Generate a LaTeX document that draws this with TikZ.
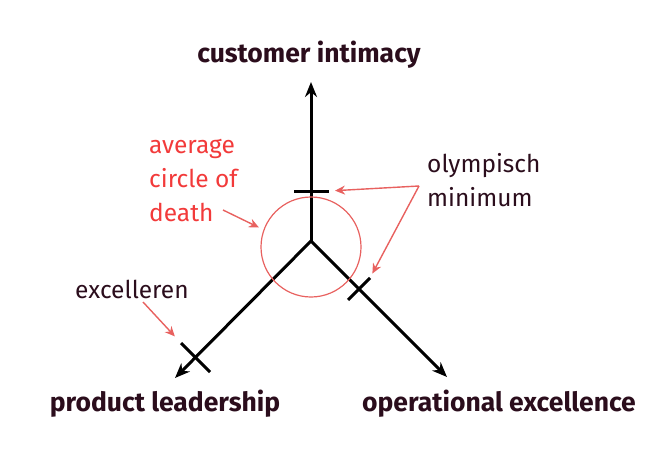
\documentclass[tikz,border=0pt]{standalone}
\usepackage{fontspec}
\setmainfont{Fira Sans}
\usepackage{xcolor}
\usetikzlibrary{positioning, arrows.meta, calc}
\definecolor{ink}{HTML}{2B0D1C}
\definecolor{alertred}{HTML}{F23A3A}
\definecolor{pointred}{HTML}{E8615F}

\begin{document}
\begin{tikzpicture}[
    x=1pt, y=-1pt,
    axis/.style={-{Stealth[length=15pt, width=12pt]}, line width=3pt, black},
    tickmark/.style={line width=3pt, black},
    pointer/.style={-{Stealth[length=10pt, width=9pt]}, line width=1.4pt, pointred},
    title/.style={font=\fontsize{26.5}{30}\selectfont\bfseries, text=ink, inner sep=0pt},
    note/.style={font=\fontsize{24.5}{34}\selectfont, align=left, anchor=west, inner sep=0pt, text=ink}
]
\useasboundingbox (0,0) rectangle (664,452);

% Axes
\coordinate (o) at (311,241);
\coordinate (ci_end) at (311,82);
\coordinate (pl_end) at (175,378);
\coordinate (oe_end) at (447,377);
\draw[axis] (o) -- (ci_end);
\draw[axis] (o) -- (pl_end);
\draw[axis] (o) -- (oe_end);

% Ticks
\coordinate (ci_tick_l) at (294,191);
\coordinate (ci_tick_r) at (329,191);
\coordinate (oe_tick_a) at (370,278);
\coordinate (oe_tick_b) at (348,300);
\coordinate (pl_tick_a) at (181,343);
\coordinate (pl_tick_b) at (210,372);
\draw[tickmark] (ci_tick_l) -- (ci_tick_r);
\draw[tickmark] (oe_tick_a) -- (oe_tick_b);
\draw[tickmark] (pl_tick_a) -- (pl_tick_b);

% Circle of death
\node[draw=pointred, line width=1.2pt, circle, minimum size=100pt, inner sep=0pt] (death) at (311,247) {};

% Titles
\node[title] (ci_title) at (309,55) {customer intimacy};
\node[title] (pl_title) at (165,404) {product leadership};
\node[title] (oe_title) at (499,404) {operational excellence};

% Notes
\node[note, text=alertred] (avg_label) at (149,180) {average\\circle of\\death};
\node[note] (oly_label) at (427,180) {olympisch\\minimum};
\node[note] (exc_label) at (75,289) {excelleren};

% Pointers
\coordinate (avg_from) at (223,210);
\coordinate (oly_from) at (419,186);
\coordinate (exc_from) at (143,302);
\draw[pointer, shorten >=5pt] (avg_from) -- (death.160);
\draw[pointer, shorten >=6pt] (oly_from) -- (ci_tick_r);
\draw[pointer, shorten >=5pt] (oly_from) -- (oe_tick_a);
\draw[pointer, shorten >=9pt] (exc_from) -- (pl_tick_a);

\end{tikzpicture}
\end{document}
